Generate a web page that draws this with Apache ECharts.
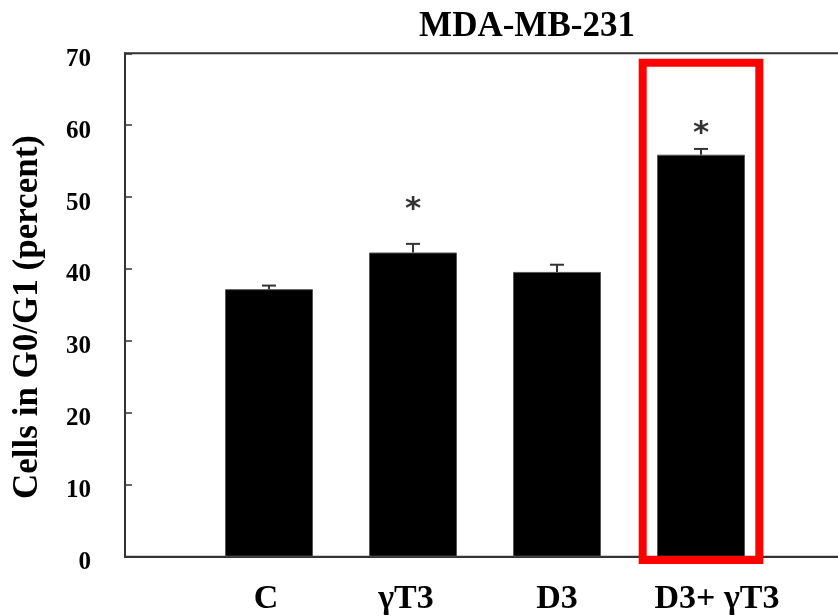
<!DOCTYPE html>
<html>
<head>
<meta charset="utf-8">
<script src="https://cdn.jsdelivr.net/npm/echarts@6/dist/echarts.min.js"></script>
<style>
  html, body { margin: 0; padding: 0; background: #fff; }
  #chart { width: 838px; height: 616px; }
</style>
</head>
<body>
<div id="chart"></div>
<script>
// padded category axis: blank slots at both ends
var categories = ['', 'C', 'γT3', 'D3', 'D3+ γT3', ''];
var groups = ['C', 'γT3', 'D3', 'D3+ γT3'];
var means = [37.2, 42.3, 39.6, 55.9];
var errTops = [37.7, 43.5, 40.6, 56.7];
var starY = [null, 49.2, null, 59.7];
var yTicks = [0, 10, 20, 30, 40, 50, 60, 70];
var highlightGroup = 'D3+ γT3';
var highlightTop = 68.7;
var highlightBottom = -0.45;

var FONT = '"Liberation Serif", "Times New Roman", serif';
var AXIS = '#333';

var chart = echarts.init(document.getElementById('chart'));

var barData = groups.map(function (g, i) { return [g, means[i]]; });
var errData = groups.map(function (g, i) { return [g, means[i], errTops[i]]; });
var starData = [];
groups.forEach(function (g, i) { if (starY[i] != null) starData.push([g, starY[i]]); });

/**
 * Draw the error whisker with a short cap.
 */
function renderErr(params, api) {
    var base = api.coord([api.value(0), api.value(1)]);
    var top = api.coord([api.value(0), api.value(2)]);
    var style = { stroke: AXIS, lineWidth: 2 };
    return {
        type: 'group',
        children: [
            { type: 'line', shape: { x1: base[0], y1: base[1], x2: top[0], y2: top[1] }, style: style },
            { type: 'line', shape: { x1: top[0] - 7, y1: top[1], x2: top[0] + 7, y2: top[1] }, style: style }
        ]
    };
}

/**
 * Red box around the highlighted group.
 */
function renderBox(params, api) {
    var tl = api.coord([api.value(0), api.value(1)]);
    var br = api.coord([api.value(0), api.value(2)]);
    var half = api.size([1, 0])[0] * 0.405;
    return {
        type: 'rect',
        shape: { x: tl[0] - half, y: tl[1], width: half * 2, height: br[1] - tl[1] },
        style: { fill: 'none', stroke: '#ff0000', lineWidth: 8 }
    };
}

chart.setOption({
    animation: false,
    title: {
        text: 'MDA-MB-231',
        left: 522,
        top: 4,
        textAlign: 'center',
        textStyle: { fontFamily: FONT, fontWeight: 'bold', fontSize: 35, color: '#000' }
    },
    grid: {
        left: 125, right: -7, top: 53.3, bottom: 59.3,
        outerBoundsMode: 'none',
        containLabel: false,
        show: true, borderColor: AXIS, borderWidth: 2, backgroundColor: 'transparent'
    },
    xAxis: {
        type: 'category',
        data: categories.map(function (c) {
            if (c === 'D3+ γT3') return { value: c, textStyle: { padding: [0, 0, 0, 32] } };
            if (c === 'γT3') return { value: c, textStyle: { padding: [0, 14, 0, 0] } };
            if (c === 'C') return { value: c, textStyle: { padding: [0, 6, 0, 0] } };
            return c;
        }),
        boundaryGap: false,
        axisLine: { lineStyle: { color: AXIS, width: 2 } },
        axisTick: { show: false },
        axisLabel: { interval: 0, margin: 26, fontFamily: FONT, fontWeight: 'bold', fontSize: 34, color: '#000' },
        splitLine: { show: false }
    },
    yAxis: [
        {
            type: 'value',
            min: yTicks[0],
            max: yTicks[yTicks.length - 1],
            interval: 10,
            name: 'Cells in G0/G1 (percent)',
            nameLocation: 'middle',
            nameGap: 80,
            nameRotate: 90,
            nameTextStyle: { fontFamily: FONT, fontWeight: 'bold', fontSize: 35, color: '#000', padding: [0, 24, 0, 0] },
            axisLine: { show: true, lineStyle: { color: AXIS, width: 2 } },
            axisTick: { show: true, inside: true, length: 7, lineStyle: { color: AXIS, width: 1.5 } },
            axisLabel: {
                margin: 34,
                formatter: '{v|{value}}',
                rich: { v: { fontFamily: FONT, fontWeight: 'bold', fontSize: 25, color: '#000', padding: [12, 0, 0, 0] } }
            },
            splitLine: { show: false }
        },
        {
            type: 'value',
            position: 'right',
            min: yTicks[0],
            max: yTicks[yTicks.length - 1],
            interval: 10,
            axisLine: { show: true, lineStyle: { color: AXIS, width: 2 } },
            axisTick: { show: true, inside: true, length: 7, lineStyle: { color: '#999', width: 1.5 } },
            axisLabel: { show: false },
            splitLine: { show: false }
        }
    ],
    series: [
        {
            type: 'bar',
            data: barData,
            barWidth: 88,
            itemStyle: { color: '#000', borderColor: '#555', borderWidth: 1 },
            z: 2
        },
        {
            type: 'custom',
            renderItem: renderErr,
            data: errData,
            encode: { x: 0, y: [1, 2] },
            z: 3
        },
        {
            type: 'scatter',
            data: starData,
            symbolSize: 1,
            itemStyle: { color: 'transparent' },
            label: {
                show: true,
                position: 'inside',
                offset: [0, 7],
                formatter: '*',
                fontFamily: '"DejaVu Sans", sans-serif',
                fontWeight: 'bold',
                fontSize: 31,
                color: '#000'
            },
            z: 4
        },
        {
            type: 'custom',
            renderItem: renderBox,
            data: [[highlightGroup, highlightTop, highlightBottom]],
            encode: { x: 0, y: [1, 2] },
            z: 5
        }
    ]
});
</script>
</body>
</html>
